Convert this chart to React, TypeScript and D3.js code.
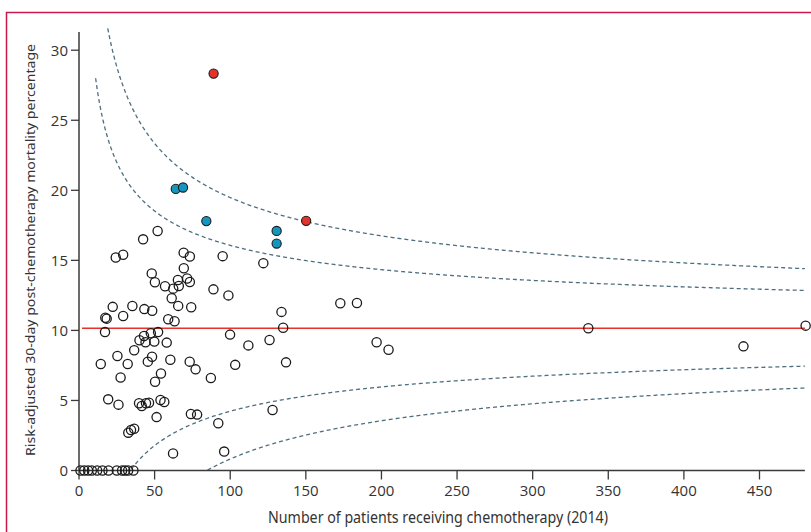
import React from "react";
import * as d3 from "d3";

const W = 811;
const H = 532;

// trusts inside the limits: [patients receiving chemotherapy, risk-adjusted mortality %]
const openTrusts: [number, number][] = [
  [42.4, 16.5], [52, 17.1], [24.3, 15.2], [29.2, 15.4], [69.2, 15.55], [73.3, 15.28],
  [95, 15.3], [121.9, 14.8], [69.3, 14.44], [48.1, 14.07], [50.2, 13.44], [65.4, 13.6],
  [71.5, 13.7], [73.3, 13.45], [56.9, 13.15], [66, 13.17], [62.3, 12.98], [61.3, 12.3],
  [88.9, 12.93], [98.8, 12.5], [172.8, 11.94], [183.8, 11.96], [22.3, 11.68], [35.3, 11.74],
  [65.6, 11.75], [74.2, 11.65], [43.2, 11.52], [48.4, 11.4], [133.9, 11.32], [29.2, 11.03],
  [17.4, 10.9], [18.3, 10.84], [59, 10.8], [63.2, 10.65], [17.2, 9.88], [135, 10.19],
  [336.8, 10.15], [480.5, 10.34], [52.3, 9.88], [47.5, 9.8], [43, 9.6], [40, 9.3],
  [44, 9.15], [49.8, 9.2], [58, 9.13], [99.9, 9.7], [112, 8.93], [126, 9.31],
  [196.8, 9.15], [204.7, 8.62], [439.4, 8.86], [36.5, 8.58], [25.4, 8.17], [48.3, 8.12],
  [45.5, 7.77], [60.4, 7.9], [73.2, 7.77], [14.4, 7.6], [32.2, 7.6], [103.3, 7.54],
  [136.9, 7.72], [77.1, 7.22], [54.2, 6.92], [27.5, 6.64], [87.2, 6.6], [50.3, 6.34],
  [19.3, 5.08], [26.1, 4.7], [39.7, 4.8], [41.5, 4.6], [44.3, 4.8], [46.3, 4.84],
  [53.9, 5.03], [56.4, 4.89], [128, 4.32], [51.3, 3.81], [74, 4.03], [78.1, 3.99],
  [92.1, 3.37], [36.5, 2.98], [34.4, 2.89], [32.6, 2.7], [62.2, 1.22], [96, 1.35],
];
// trusts with no deaths (mortality 0)
const zeroTrusts = [1, 3.5, 6, 8.5, 12, 15.5, 19.5, 25, 28.5, 30.5, 32.5, 36];
// above the 95% limit
const alertTrusts: [number, number][] = [[64, 20.1], [68.8, 20.2], [84.2, 17.8], [130.7, 17.1], [130.7, 16.2]];
// above the 99.8% limit
const alarmTrusts: [number, number][] = [[89, 28.33], [150.2, 17.82]];

const nationalRate = 10.15;
const limitZ = [1.96, 3.09];
const xTicks = [0, 50, 100, 150, 200, 250, 300, 350, 400, 450];
const yTicks = [0, 5, 10, 15, 20, 25, 30];

const x = d3.scaleLinear().domain([0, 450]).range([79, 759.5]);
const y = d3.scaleLinear().domain([0, 30]).range([470.5, 50.2]);

const xMax = 480;
const yTop = 31.3;

// funnel control limits around the national rate (normal approximation)
function limitPath(z: number, sign: number) {
  const pts: [number, number][] = [];
  for (let n = 11; n <= xMax; n += 0.5) {
    const v = nationalRate + sign * z * Math.sqrt((nationalRate * (100 - nationalRate)) / n);
    if (v >= 0 && v <= yTop + 0.3) pts.push([n, v]);
  }
  return d3.line<[number, number]>().x((d) => x(d[0])).y((d) => y(d[1]))(pts) || "";
}

const axisColor = "#3a3a3a";
const tickFont = "'Open Sans', 'Noto Sans', sans-serif";

export default function App() {
  const r = 4.6;
  return (
    <svg width={W} height={H} style={{ position: "absolute", left: 0, top: 0, background: "#fff" }}>
      <rect x={6.5} y={12.5} width={900} height={600} fill="none" stroke="#c8194f" strokeWidth={1.5} />

      {/* control limits */}
      {limitZ.map((z) => [1, -1].map((s) => (
        <path key={z + "_" + s} d={limitPath(z, s)} fill="none" stroke="#4f6f7f"
          strokeWidth={1.3} strokeDasharray="4,3" />
      )))}

      {/* national average */}
      <line x1={x(2)} x2={x(xMax)} y1={y(nationalRate)} y2={y(nationalRate)} stroke="#e5322a" strokeWidth={1.5} />

      {/* axes */}
      <line x1={x(0)} x2={x(0)} y1={y(yTop)} y2={y(0)} stroke={axisColor} strokeWidth={1.5} />
      <line x1={x(0)} x2={x(xMax)} y1={y(0)} y2={y(0)} stroke={axisColor} strokeWidth={1.5} />
      {yTicks.map((t) => (
        <g key={"y" + t}>
          <line x1={x(0) - 8} x2={x(0)} y1={y(t)} y2={y(t)} stroke={axisColor} strokeWidth={1.3} />
          <text x={x(0) - 11} y={y(t)} dy="0.36em" textAnchor="end" fontFamily={tickFont}
            fontSize={15} fill="#333">{t}</text>
        </g>
      ))}
      {xTicks.map((t) => (
        <g key={"x" + t}>
          <line x1={x(t)} x2={x(t)} y1={y(0)} y2={y(0) + 9} stroke={axisColor} strokeWidth={1.3} />
          <text x={x(t)} y={496} textAnchor="middle" fontFamily={tickFont} fontSize={15} fill="#333">{t}</text>
        </g>
      ))}

      <text x={438} y={523} textAnchor="middle" fontFamily="'Noto Sans', sans-serif"
        fontSize={16.5} fill="#333" textLength={340} lengthAdjust="spacingAndGlyphs">
        Number of patients receiving chemotherapy (2014)
      </text>
      <text transform={`translate(35,250) rotate(-90)`} textAnchor="middle"
        fontFamily="'Noto Sans', sans-serif" fontSize={13} fill="#333"
        textLength={412} lengthAdjust="spacingAndGlyphs">
        Risk-adjusted 30-day post-chemotherapy mortality percentage
      </text>

      {/* trusts */}
      {zeroTrusts.map((n, i) => (
        <circle key={"z" + i} cx={x(n)} cy={y(0)} r={r} fill="none" stroke="#1a1a1a" strokeWidth={1.3} />
      ))}
      {openTrusts.map((d, i) => (
        <circle key={"o" + i} cx={x(d[0])} cy={y(d[1])} r={r} fill="none" stroke="#1a1a1a" strokeWidth={1.3} />
      ))}
      {alertTrusts.map((d, i) => (
        <circle key={"b" + i} cx={x(d[0])} cy={y(d[1])} r={r} fill="#1696bf" stroke="#1a1a1a" strokeWidth={1.1} />
      ))}
      {alarmTrusts.map((d, i) => (
        <circle key={"r" + i} cx={x(d[0])} cy={y(d[1])} r={r} fill="#e5322a" stroke="#1a1a1a" strokeWidth={1.1} />
      ))}
    </svg>
  );
}
